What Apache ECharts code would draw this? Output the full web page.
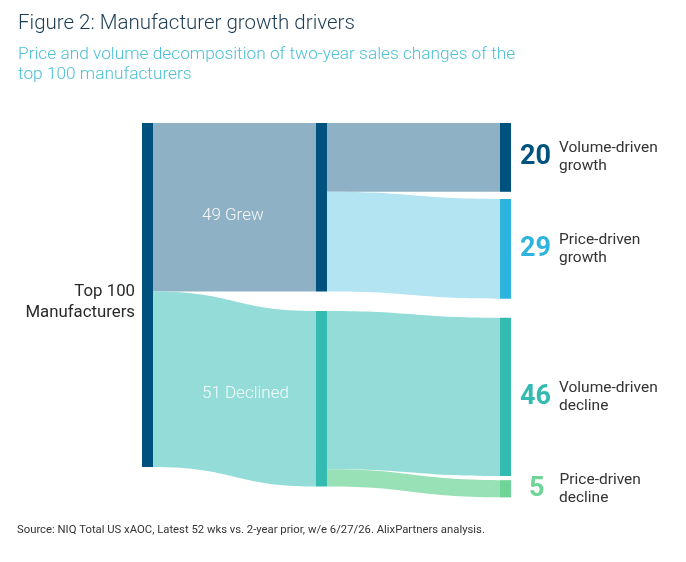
<!DOCTYPE html>
<html>
<head>
<meta charset="utf-8">
<script src="https://cdn.jsdelivr.net/npm/echarts@6/dist/echarts.min.js"></script>
<style>
  html, body { margin: 0; padding: 0; background: #fff; }
  #chart { width: 686px; height: 562px; }
</style>
</head>
<body>
<div id="chart"></div>
<script>
const nodeNames = ['Top 100', 'Grew', 'Declined', 'Volume-driven growth', 'Price-driven growth', 'Volume-driven decline', 'Price-driven decline'];
const nodeColors = ['#00527e', '#00527e', '#33bab1', '#00527e', '#2db4de', '#33bab1', '#6fd498'];
const nodeLocalX = [0, 0.4715, 0.4715, 0.9702, 0.9702, 0.9702, 0.9702];
const nodeLocalY = [0, 0, 0.503, 0, 0.203, 0.521, 0.955];

const linkSources = ['Top 100', 'Top 100', 'Grew', 'Grew', 'Declined', 'Declined'];
const linkTargets = ['Grew', 'Declined', 'Volume-driven growth', 'Price-driven growth', 'Volume-driven decline', 'Price-driven decline'];
const linkValues = [49, 51, 20, 29, 46, 5];
const linkColors = ['#8fb1c5', '#93dcd7', '#8fb1c5', '#b3e4f1', '#93dcd7', '#98e1b6'];

const rightLabels = {
    'Volume-driven growth': 'Volume-driven\ngrowth',
    'Price-driven growth': 'Price-driven\ngrowth',
    'Volume-driven decline': 'Volume-driven\ndecline',
    'Price-driven decline': 'Price-driven\ndecline'
};

const chart = echarts.init(document.getElementById('chart'));

const nodes = nodeNames.map((name, i) => {
    const item = { name: name, localX: nodeLocalX[i], localY: nodeLocalY[i], itemStyle: { color: nodeColors[i] } };
    if (i === 0) {
        item.label = {
            position: 'left',
            distance: 7,
            align: 'right',
            fontSize: 16.8,
            lineHeight: 21,
            color: '#2a2a2a',
            offset: [0, 7],
            formatter: 'Top 100\nManufacturers'
        };
    } else if (i === 1 || i === 2) {
        item.label = {
            position: [-114, i === 1 ? '55%' : '47%'],
            align: 'left',
            verticalAlign: 'middle',
            fontSize: 17,
            fontWeight: 300,
            color: 'rgba(255,255,255,0.9)',
            formatter: (i === 1 ? '49' : '51') + ' ' + name
        };
    } else {
        item.label = { color: nodeColors[i] };
    }
    return item;
});

const links = linkValues.map((v, i) => ({
    source: linkSources[i],
    target: linkTargets[i],
    value: v,
    lineStyle: { color: linkColors[i], opacity: 1 }
}));

const option = {
    title: [
        {
            text: 'Figure 2: Manufacturer growth drivers',
            left: 18, top: 13, padding: 0,
            textStyle: { fontFamily: 'Roboto', fontSize: 20.5, fontWeight: 300, color: '#1b3c52' }
        },
        {
            text: 'Price and volume decomposition of two-year sales changes of the\ntop 100 manufacturers',
            left: 18, top: 45, padding: 0,
            textStyle: { fontFamily: 'Roboto', fontSize: 17.3, fontWeight: 300, color: '#4cc0d6', lineHeight: 20 }
        },
        {
            text: 'Source: NIQ Total US xAOC, Latest 52 wks vs. 2-year prior, w/e 6/27/26. AlixPartners analysis.',
            left: 17, top: 525, padding: 0,
            textStyle: { fontFamily: 'Roboto', fontSize: 11.3, fontWeight: 'normal', color: '#333' }
        }
    ],
    series: [{
        type: 'sankey',
        left: 142,
        top: 123,
        right: 175,
        bottom: 65,
        nodeWidth: 11,
        nodeGap: 10,
        layoutIterations: 0,
        draggable: false,
        emphasis: { disabled: true },
        label: {
            position: 'right',
            distance: 9,
            fontFamily: 'Roboto',
            formatter: p => {
                const v = p.value;
                const tag = v < 10 ? 'n1' : 'n';
                const lines = rightLabels[p.name].split('\n');
                return '{' + tag + '|' + v + '}{t|' + lines[0] + '}\n{sp| }{t|' + lines[1] + '}';
            },
            rich: {
                n: { fontFamily: 'Roboto', fontSize: 27, fontWeight: 'bold', lineHeight: 18, padding: [18, 8, 0, 0] },
                n1: { fontFamily: 'Roboto', fontSize: 27, fontWeight: 'bold', lineHeight: 18, padding: [18, 15, 0, 9] },
                sp: { width: 39, lineHeight: 18 },
                t: { fontFamily: 'Roboto', fontSize: 15.5, color: '#333', lineHeight: 18 }
            }
        },
        lineStyle: { curveness: 0.5 },
        data: nodes,
        links: links
    }]
};

chart.setOption(option);
</script>
</body>
</html>
